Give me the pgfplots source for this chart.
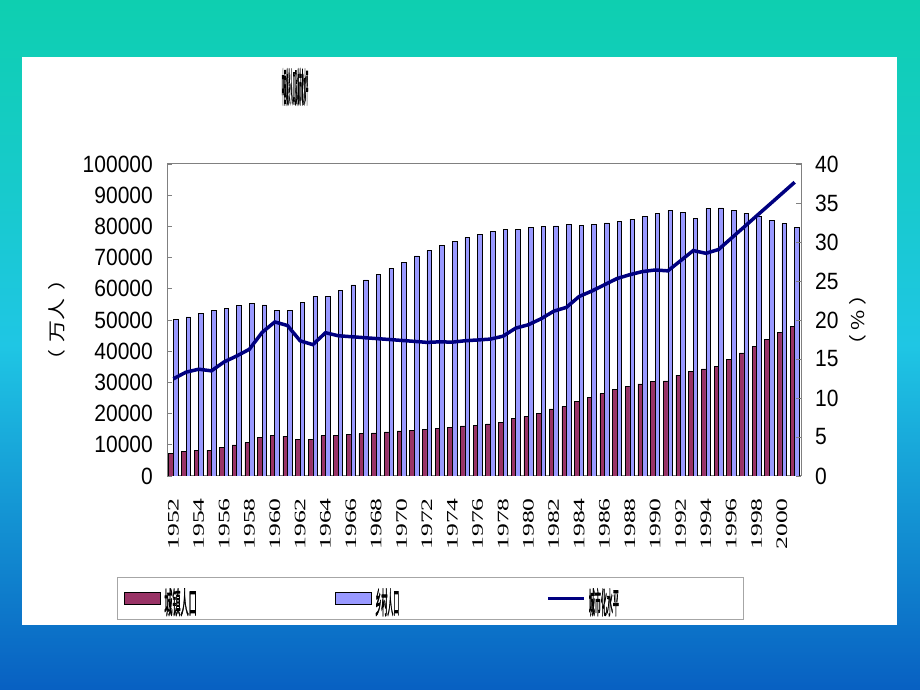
\documentclass[border=0pt]{standalone}
\usepackage{fontspec}
\setmainfont{Liberation Sans}
\newfontfamily\serif{Liberation Serif}
\newfontfamily\cjk{Noto Sans CJK SC}
\newfontfamily\cjkb[FakeBold=3]{Noto Sans CJK SC}
\usepackage{graphicx}
\usepackage{pgfplots}
\usepackage{pgfplotstable}
\pgfplotsset{compat=1.18}

\definecolor{urban}{HTML}{993366}
\definecolor{rural}{HTML}{9999FF}
\definecolor{rate}{HTML}{000080}
\definecolor{frame}{HTML}{808080}
\definecolor{bgtop}{HTML}{0ECFB0}
\definecolor{bgmid}{HTML}{1FC6E4}
\definecolor{bgbot}{HTML}{0860C2}

% urban / rural population (10k persons), urbanisation rate (%)
\pgfplotstableread{
year urban rural rate
1952 7163 50319 12.46
1953 7826 50970 13.31
1954 8249 52017 13.69
1955 8285 53180 13.48
1956 9185 53643 14.62
1957 9949 54704 15.39
1958 10721 55273 16.25
1959 12371 54836 18.41
1960 13073 53134 19.75
1961 12707 53152 19.29
1962 11659 55636 17.33
1963 11646 57526 16.84
1964 12950 57549 18.37
1965 13045 59493 17.98
1966 13313 61229 17.86
1967 13548 62820 17.74
1968 13838 64696 17.62
1969 14117 66554 17.50
1970 14424 68568 17.38
1971 14711 70518 17.26
1972 14935 72242 17.13
1973 15345 73866 17.20
1974 15595 75264 17.16
1975 16030 76390 17.34
1976 16341 77376 17.44
1977 16669 78305 17.55
1978 17245 79014 17.92
1979 18495 79047 18.96
1980 19140 79565 19.39
1981 20171 79901 20.16
1982 21480 80174 21.13
1983 22274 80734 21.62
1984 24017 80340 23.01
1985 25094 80757 23.71
1986 26366 81141 24.52
1987 27674 81626 25.32
1988 28661 82365 25.81
1989 29540 83164 26.21
1990 30195 84138 26.41
1991 30500 85100 26.30
1992 32300 84600 27.60
1993 33500 82500 28.90
1994 34301 85681 28.55
1995 35174 85947 29.04
1996 37304 85085 30.48
1997 39449 84177 31.91
1998 41608 83153 33.35
1999 43748 82038 34.78
2000 45906 80837 36.22
2001 48064 79563 37.66
}\pop

\newcommand\yr[1]{\scalebox{1.6}[1]{\serif #1}}
\newcommand\yt[1]{\scalebox{1}[1.12]{#1}}
\newcommand\lt[3]{\makebox[#1][l]{\rule[-13pt]{0pt}{26pt}\raisebox{-7pt}{\scalebox{#2}[1]{\cjkb\fontsize{30}{30}\selectfont #3}}}}

\begin{document}
\begin{tikzpicture}[x=1pt,y=1pt]
\shade[top color=bgtop, bottom color=bgbot, middle color=bgmid] (0,0) rectangle (920,690);
\fill[white] (22,65) rectangle (897,633);

\begin{axis}[
  at={(167pt,214pt)}, anchor=south west,
  scale only axis, width=634pt, height=312pt,
  xmin=1951.5, xmax=2001.5, ymin=0, ymax=100000,
  axis line style={draw=frame, line width=1pt},
  tick align=inside, major tick length=5pt,
  xtick={1952,1954,...,2000},
  xticklabels={\yr{1952},\yr{1954},\yr{1956},\yr{1958},\yr{1960},\yr{1962},\yr{1964},\yr{1966},\yr{1968},\yr{1970},\yr{1972},\yr{1974},\yr{1976},\yr{1978},\yr{1980},\yr{1982},\yr{1984},\yr{1986},\yr{1988},\yr{1990},\yr{1992},\yr{1994},\yr{1996},\yr{1998},\yr{2000}},
  xtick style={draw=none},
  xticklabel style={rotate=90, anchor=east, inner sep=0pt, xshift=-22pt, font=\fontsize{16}{16}\selectfont},
  ytick={0,10000,...,100000},
  yticklabels={\yt{0},\yt{10000},\yt{20000},\yt{30000},\yt{40000},\yt{50000},\yt{60000},\yt{70000},\yt{80000},\yt{90000},\yt{100000}},
  ytick pos=left,
  ytick style={draw=frame, line width=0.8pt},
  yticklabel style={anchor=east, inner sep=0pt, xshift=-14pt, font=\fontsize{21}{21}\selectfont},
  scaled y ticks=false,
  ylabel={\scalebox{1}[0.8]{\cjk\fontsize{22}{22}\selectfont （\hspace{8pt}万人\hspace{8pt}）}},
  ylabel style={at={(axis description cs:-0.1735,0.5)}, anchor=center},
  title={\scalebox{0.055}[1]{\cjkb\fontsize{40}{40}\selectfont 中国城乡人口及城市化水平}},
  title style={at={(axis description cs:0.2019,1.228)}, anchor=center},
  legend columns=3,
  legend cell align=left,
  legend style={at={(axis description cs:-0.0789,-0.3237)}, anchor=north west,
    draw=gray!70, line width=0.8pt, fill=white, inner xsep=7pt, inner ysep=11pt,
    column sep=3pt, nodes={inner sep=0pt}},
]
\addplot[ybar, bar width=0.36, bar shift=-0.18, fill=urban, draw=black, line width=0.6pt, forget plot]
  table[x=year, y=urban] {\pop};
\addplot[ybar, bar width=0.36, bar shift=0.18, fill=rural, draw=black, line width=0.6pt, forget plot]
  table[x=year, y=rural] {\pop};
\addlegendimage{legend image code/.code={\draw[fill=urban, draw=black, line width=1pt] (0pt,-6pt) rectangle (36pt,6pt);}}
\addlegendimage{legend image code/.code={\draw[fill=rural, draw=black, line width=1pt] (0pt,-6pt) rectangle (36pt,6pt);}}
\addlegendimage{legend image code/.code={\draw[rate, line width=3.5pt] (0pt,0pt) -- (36pt,0pt);}}
\legend{\lt{168pt}{0.27}{城镇人口}, \lt{168pt}{0.2}{乡村人口}, \lt{148pt}{0.2}{城市化水平}}
\end{axis}

\begin{axis}[
  at={(167pt,214pt)}, anchor=south west,
  scale only axis, width=634pt, height=312pt,
  xmin=1951.5, xmax=2001.5, ymin=0, ymax=40,
  axis x line=none, axis y line*=right,
  axis line style={draw=frame, line width=1pt},
  tick align=inside, major tick length=5pt,
  ytick={0,5,...,40},
  yticklabels={\yt{0},\yt{5},\yt{10},\yt{15},\yt{20},\yt{25},\yt{30},\yt{35},\yt{40}},
  ytick style={draw=frame, line width=0.8pt},
  yticklabel style={anchor=west, inner sep=0pt, xshift=14pt, font=\fontsize{21}{21}\selectfont},
  ylabel={\scalebox{1}[0.8]{\cjk\fontsize{22}{22}\selectfont （\hspace{4pt}\%\hspace{4pt}）}},
  ylabel style={at={(axis description cs:1.09,0.5)}, anchor=center},
]
\addplot[rate, line width=3.5pt, mark=none] table[x=year, y=rate] {\pop};
\end{axis}

\pgfresetboundingbox
\useasboundingbox (0,0) rectangle (920,690);
\end{tikzpicture}
\end{document}
